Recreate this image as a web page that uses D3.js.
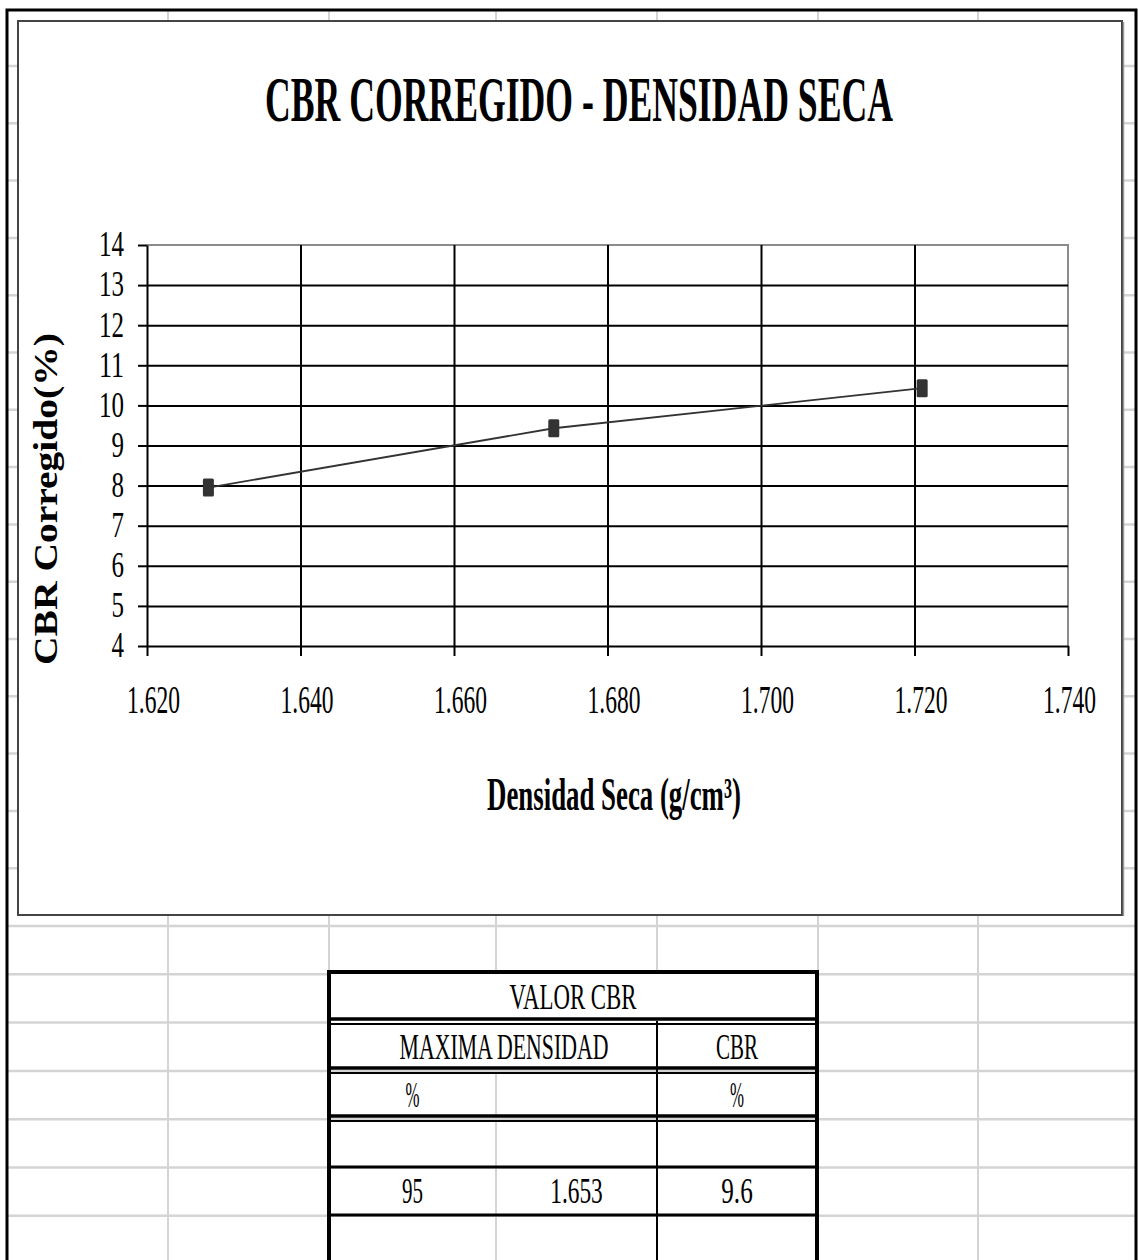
<!DOCTYPE html>
<html>
<head>
<meta charset="utf-8">
<script src="https://cdn.jsdelivr.net/npm/d3@7"></script>
<style>
  html, body { margin: 0; padding: 0; background: #fff; }
  svg { display: block; }
  text { font-family: "Liberation Serif", "Times New Roman", serif; fill: #000; }
</style>
</head>
<body>
<svg id="hoja" width="1138" height="1260"></svg>
<script>
// ---- data ----
const densidadSeca = [1.628, 1.673, 1.721];      // g/cm³
const cbrCorregido = [7.95, 9.43, 10.43];         // %
const xTickValues = [1.62, 1.64, 1.66, 1.68, 1.70, 1.72, 1.74];
const yTickValues = [4, 5, 6, 7, 8, 9, 10, 11, 12, 13, 14];
const chartTitle = "CBR CORREGIDO - DENSIDAD SECA";
const xAxisTitle = "Densidad Seca (g/cm³)";
const yAxisTitle = "CBR Corregido(%)";
const tablaTitulo = "VALOR CBR";
const tablaEncabezado = ["MAXIMA DENSIDAD", "CBR"];
const tablaUnidades = ["%", "", "%"];
const tablaValores = ["95", "1.653", "9.6"];

// ---- layout ----
const W = 1138, H = 1260;
const sheetGray = "#d4d4d4";
const frame = { x0: 7, x1: 1136, y0: 10 };
const colLines = [168, 329, 496, 657, 818, 978];
const rowTop0 = 66, rowStepTop = 57.3, rowCountTop = 15;
const rowBelow0 = 926, rowStepBelow = 48.3;
const chartBox = { x0: 18, y0: 21, x1: 1122, y1: 915 };
const plot = { x0: 147, x1: 1068, y0: 245, y1: 646 };

const svg = d3.select("#hoja");

// condense a text element horizontally so its run is exactly w pixels
function fit(sel, w) {
  const nat = sel.node().getComputedTextLength();
  const k = nat > 0 ? w / nat : 1;
  const tx = +sel.attr("x") || 0, ty = +sel.attr("y") || 0;
  const pre = sel.attr("transform") || "";
  sel.attr("x", 0).attr("y", 0)
    .attr("transform", `${pre} translate(${tx},${ty}) scale(${k},1)`.trim());
  return sel;
}

// ---- spreadsheet grid, clipped to the page frame ----
svg.append("clipPath").attr("id", "pagina")
  .append("rect").attr("x", frame.x0).attr("y", frame.y0)
  .attr("width", frame.x1 - frame.x0).attr("height", H - frame.y0);
const grid = svg.append("g").attr("clip-path", "url(#pagina)");
for (let k = 0; k < rowCountTop; k++) {
  const y = rowTop0 + k * rowStepTop;
  grid.append("line").attr("x1", 0).attr("x2", W).attr("y1", y).attr("y2", y)
    .attr("stroke", sheetGray).attr("stroke-width", 2.5);
}
for (let y = rowBelow0; y < H; y += rowStepBelow) {
  grid.append("line").attr("x1", 0).attr("x2", W).attr("y1", y).attr("y2", y)
    .attr("stroke", sheetGray).attr("stroke-width", 2.5);
}
colLines.forEach(x => {
  grid.append("line").attr("x1", x).attr("x2", x).attr("y1", 0).attr("y2", H)
    .attr("stroke", sheetGray).attr("stroke-width", 2);
});

// outer page frame
svg.append("path")
  .attr("d", `M${frame.x0},${H} L${frame.x0},${frame.y0} L${frame.x1},${frame.y0} L${frame.x1},${H}`)
  .attr("fill", "none").attr("stroke", "#000").attr("stroke-width", 3);

// ---- chart area ----
svg.append("rect")
  .attr("x", chartBox.x0).attr("y", chartBox.y0)
  .attr("width", chartBox.x1 - chartBox.x0).attr("height", chartBox.y1 - chartBox.y0)
  .attr("fill", "#fff").attr("stroke", "#444").attr("stroke-width", 2);
svg.append("line")
  .attr("x1", chartBox.x1 + 1.5).attr("x2", chartBox.x1 + 1.5)
  .attr("y1", chartBox.y0 + 1).attr("y2", chartBox.y1 + 1)
  .attr("stroke", "#999").attr("stroke-width", 1.5);

fit(svg.append("text")
  .attr("x", 579).attr("y", 121)
  .attr("text-anchor", "middle")
  .attr("font-size", 63).attr("font-weight", "bold")
  .text(chartTitle), 628);

const x = d3.scaleLinear().domain([1.62, 1.74]).range([plot.x0, plot.x1]);
const y = d3.scaleLinear().domain([4, 14]).range([plot.y1, plot.y0]);

// plot frame (top and right edges in gray)
svg.append("path")
  .attr("d", `M${plot.x0},${plot.y0} L${plot.x1},${plot.y0} L${plot.x1},${plot.y1}`)
  .attr("fill", "none").attr("stroke", "#8c8c8c").attr("stroke-width", 2);

// horizontal gridlines
svg.append("g")
  .attr("transform", `translate(${plot.x0},0)`)
  .call(d3.axisRight(y).tickValues(yTickValues.filter(v => v > 4 && v < 14))
    .tickSize(plot.x1 - plot.x0).tickFormat(""))
  .call(g => g.select(".domain").remove())
  .call(g => g.selectAll("line").attr("stroke", "#000").attr("stroke-width", 2));

// vertical gridlines
svg.append("g")
  .attr("transform", `translate(0,${plot.y1})`)
  .call(d3.axisTop(x).tickValues(xTickValues.filter(v => v > 1.62 && v < 1.74))
    .tickSize(plot.y1 - plot.y0).tickFormat(""))
  .call(g => g.select(".domain").remove())
  .call(g => g.selectAll("line").attr("stroke", "#000").attr("stroke-width", 2));

// y axis
const yAxis = svg.append("g")
  .attr("transform", `translate(${plot.x0},0)`)
  .call(d3.axisLeft(y).tickValues(yTickValues).tickSize(9).tickSizeOuter(0).tickPadding(14)
    .tickFormat(d3.format("d")));
yAxis.select(".domain").attr("stroke", "#000").attr("stroke-width", 2);
yAxis.selectAll(".tick line").attr("stroke", "#000").attr("stroke-width", 2);
yAxis.selectAll(".tick text")
  .attr("font-family", "Liberation Serif").attr("font-size", 36)
  .attr("dy", "0.30em")
  .each(function (d) { fit(d3.select(this), 12.5 * String(d).length); });

// x axis
const xAxis = svg.append("g")
  .attr("transform", `translate(0,${plot.y1})`)
  .call(d3.axisBottom(x).tickValues(xTickValues).tickSize(10).tickSizeOuter(0).tickPadding(28)
    .tickFormat(d3.format(".3f")));
xAxis.select(".domain").attr("stroke", "#000").attr("stroke-width", 2);
xAxis.selectAll(".tick line").attr("stroke", "#000").attr("stroke-width", 2);
xAxis.selectAll(".tick text")
  .attr("font-family", "Liberation Serif").attr("font-size", 41)
  .attr("x", (d, i, n) => i === n.length - 1 ? 1 : 6)
  .each(function () { fit(d3.select(this), 53); });

// axis titles
fit(svg.append("text")
  .attr("x", 614).attr("y", 810)
  .attr("text-anchor", "middle")
  .attr("font-size", 46).attr("font-weight", "bold")
  .text(xAxisTitle), 254);

fit(svg.append("text")
  .attr("transform", "translate(57,499) rotate(-90)")
  .attr("text-anchor", "middle")
  .attr("font-size", 34).attr("font-weight", "bold")
  .text(yAxisTitle), 332);

// series line + markers
const pts = densidadSeca.map((d, i) => [d, cbrCorregido[i]]);
svg.append("path")
  .datum(pts)
  .attr("d", d3.line().x(d => x(d[0])).y(d => y(d[1])))
  .attr("fill", "none").attr("stroke", "#333").attr("stroke-width", 1.8);
svg.append("g").selectAll("rect")
  .data(pts)
  .join("rect")
  .attr("x", d => x(d[0]) - 5.5).attr("y", d => y(d[1]) - 9)
  .attr("width", 11).attr("height", 18).attr("rx", 1.5)
  .attr("fill", "#333");

// ---- CBR summary table ----
const T = { x0: 329, x1: 817, c1: 496, c2: 657 };
const rows = [972, 1021, 1070, 1118, 1167, 1215];
const tbl = svg.append("g");

// merged cells hide the sheet grid
tbl.append("rect").attr("x", T.x0).attr("y", rows[0]).attr("width", T.x1 - T.x0)
  .attr("height", rows[1] - rows[0]).attr("fill", "#fff");
tbl.append("rect").attr("x", T.x0).attr("y", rows[1]).attr("width", T.x1 - T.x0)
  .attr("height", rows[2] - rows[1]).attr("fill", "#fff");

const hline = (yy, w) => tbl.append("line").attr("x1", T.x0).attr("x2", T.x1)
  .attr("y1", yy).attr("y2", yy).attr("stroke", "#000").attr("stroke-width", w);
const dbl = yy => { hline(yy - 2, 3.5); hline(yy + 3, 2); };
hline(rows[0], 4);
dbl(rows[1]); dbl(rows[2]); dbl(rows[3]);
hline(rows[4], 3); hline(rows[5], 3);
tbl.append("line").attr("x1", T.c2).attr("x2", T.c2).attr("y1", rows[1]).attr("y2", H)
  .attr("stroke", "#000").attr("stroke-width", 2);
[T.x0, T.x1].forEach(xx => tbl.append("line").attr("x1", xx).attr("x2", xx)
  .attr("y1", rows[0] - 2).attr("y2", H).attr("stroke", "#000").attr("stroke-width", 4));

const cellText = (tx, ty, s, w) => fit(tbl.append("text")
  .attr("x", tx).attr("y", ty).attr("text-anchor", "middle")
  .attr("font-size", 36).text(s), w);

const colMid = [(T.x0 + T.c1) / 2, (T.c1 + T.c2) / 2, (T.c2 + T.x1) / 2];
const charW = 10.5;
cellText((T.x0 + T.x1) / 2, 1009, tablaTitulo, 127);
cellText(504, 1059, tablaEncabezado[0], 209);
cellText(colMid[2], 1059, tablaEncabezado[1], 42);
tablaUnidades.forEach((s, i) => { if (s) cellText(colMid[i], 1107, s, 14); });
tablaValores.forEach((s, i) => cellText(colMid[i], 1203, s, s.length * charW));
</script>
</body>
</html>
